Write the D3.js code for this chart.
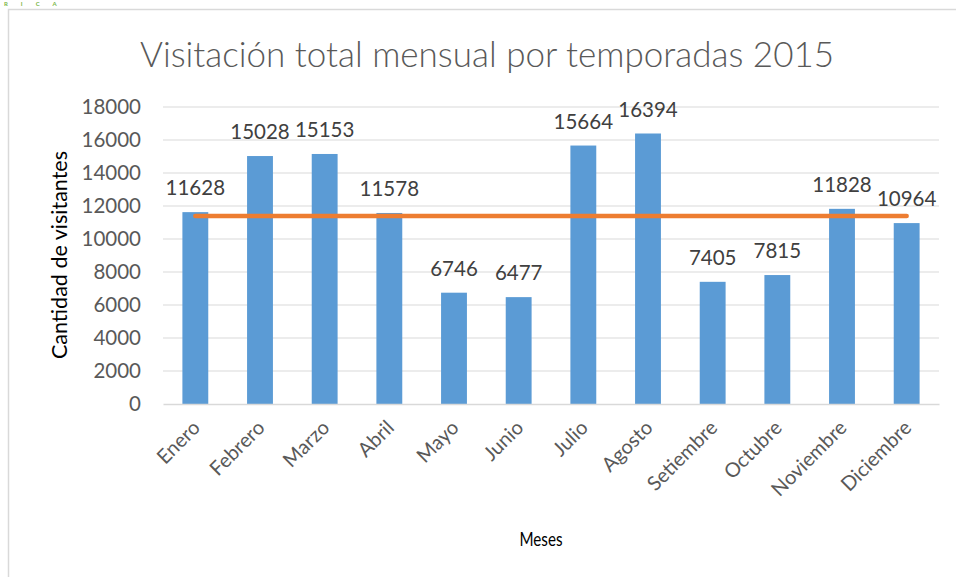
<!DOCTYPE html>
<html>
<head>
<meta charset="utf-8">
<script src="https://cdn.jsdelivr.net/npm/d3@7"></script>
<style>
  body { margin: 0; background: #fff; }
  svg { display: block; font-family: Lato, "Open Sans", sans-serif; }
</style>
</head>
<body>
<svg id="chart" width="956" height="577"></svg>
<script>
'use strict'

const months = ['Enero', 'Febrero', 'Marzo', 'Abril', 'Mayo', 'Junio', 'Julio', 'Agosto',
  'Setiembre', 'Octubre', 'Noviembre', 'Diciembre']
const visitors = [11628, 15028, 15153, 11578, 6746, 6477, 15664, 16394, 7405, 7815, 11828, 10964]
const yTicks = [0, 2000, 4000, 6000, 8000, 10000, 12000, 14000, 16000, 18000]

// the orange line is the yearly average
const average = d3.mean(visitors)

const svg = d3.select('#chart')

const margin = { left: 163, right: 17, top: 107, bottom: 173 }
const width = 956 - margin.left - margin.right
const height = 577 - margin.top - margin.bottom

// chart frame (only top and left edges show in the picture)
svg.append('path')
  .attr('d', 'M8.5,577 V9.5 H956')
  .attr('fill', 'none')
  .attr('stroke', '#d9d9d9')
  .attr('stroke-width', 1.5)

svg.append('text')
  .attr('x', 4)
  .attr('y', 6)
  .attr('font-size', 6)
  .attr('font-weight', 'bold')
  .attr('letter-spacing', 13)
  .attr('fill', '#7ab648')
  .text('RICA')

const g = svg.append('g')
  .attr('transform', `translate(${margin.left},${margin.top})`)

const x = d3.scaleBand()
  .domain(months)
  .range([0, width])
  .paddingInner(0.6)
  .paddingOuter(0.3)

const y = d3.scaleLinear()
  .domain([0, 18000])
  .range([height, 0])

// gridlines
g.append('g')
  .selectAll('line')
  .data(yTicks.slice(1))
  .enter()
  .append('line')
    .attr('x1', 0)
    .attr('x2', width)
    .attr('y1', d => y(d))
    .attr('y2', d => y(d))
    .attr('stroke', '#d9d9d9')
    .attr('stroke-width', 1)

// y axis labels
const yAxis = g.append('g')
  .call(d3.axisLeft(y).tickValues(yTicks).tickSize(0).tickPadding(22).tickFormat(d3.format('d')))
yAxis.select('.domain').remove()
yAxis.selectAll('text')
  .attr('font-size', 20.5)
  .attr('fill', '#595959')
  .attr('font-family', 'Lato, "Open Sans", sans-serif')

// bars
g.selectAll('.bar')
  .data(months)
  .enter()
  .append('rect')
    .attr('class', 'bar')
    .attr('x', d => x(d))
    .attr('width', x.bandwidth())
    .attr('y', (d, i) => y(visitors[i]))
    .attr('height', (d, i) => height - y(visitors[i]))
    .attr('fill', '#5b9bd5')

// x axis
const xAxis = g.append('g')
  .attr('transform', `translate(0,${height})`)
  .call(d3.axisBottom(x).tickSize(0).tickPadding(0))
xAxis.select('.domain')
  .attr('stroke', '#d9d9d9')
  .attr('stroke-width', 1.5)
xAxis.selectAll('text')
  .attr('font-size', 20)
  .attr('fill', '#595959')
  .attr('font-family', 'Lato, "Open Sans", sans-serif')
  .attr('text-anchor', 'end')
  .attr('dy', 0)
  .attr('transform', 'translate(6,25) rotate(-45)')

// average line
const line = d3.line()
  .x(d => x(d) + x.bandwidth() / 2)
  .y(() => y(average))
g.append('path')
  .datum(months)
  .attr('d', line)
  .attr('fill', 'none')
  .attr('stroke', '#ed7d31')
  .attr('stroke-width', 4.5)
  .attr('stroke-linecap', 'round')

// data labels
g.selectAll('.label')
  .data(months)
  .enter()
  .append('text')
    .attr('class', 'label')
    .attr('x', d => x(d) + x.bandwidth() / 2)
    .attr('y', (d, i) => y(visitors[i]) - 17)
    .attr('text-anchor', 'middle')
    .attr('font-size', 20.5)
    .attr('fill', '#404040')
    .text((d, i) => visitors[i])

// titles
svg.append('text')
  .attr('x', 487)
  .attr('y', 67)
  .attr('text-anchor', 'middle')
  .attr('font-size', 35)
  .attr('font-weight', 300)
  .attr('fill', '#595959')
  .text('Visitación total mensual por temporadas 2015')

svg.append('text')
  .attr('transform', 'translate(67,255) rotate(-90)')
  .attr('text-anchor', 'middle')
  .attr('font-size', 21.5)
  .attr('fill', '#000')
  .text('Cantidad de visitantes')

svg.append('text')
  .attr('x', 541)
  .attr('y', 546)
  .attr('text-anchor', 'middle')
  .attr('font-size', 19)
  .attr('textLength', 43)
  .attr('lengthAdjust', 'spacingAndGlyphs')
  .attr('fill', '#000')
  .text('Meses')
</script>
</body>
</html>
